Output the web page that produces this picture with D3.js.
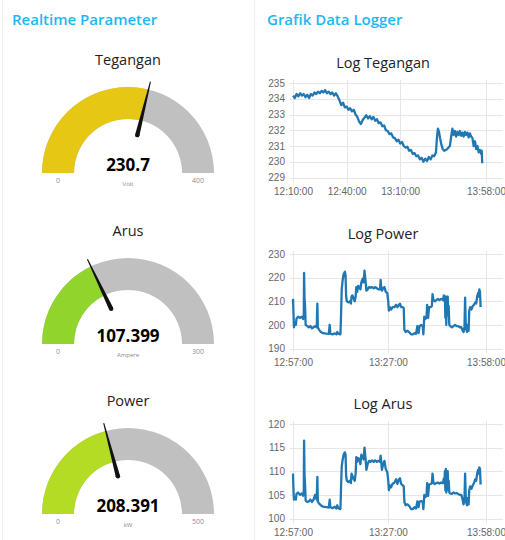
<!DOCTYPE html>
<html>
<head>
<meta charset="utf-8">
<script src="https://cdn.jsdelivr.net/npm/d3@7"></script>
<style>
  body { margin: 0; background: #fff; }
  svg { display: block; font-family: "Open Sans", sans-serif; }
  .panel-title { fill: #20b7f3; font-size: 15px; font-weight: 600; }
  .gauge-title, .chart-title { fill: #222; font-size: 14.5px; }
  .gauge-value { fill: #000; font-size: 17px; font-weight: 700; }
  .gauge-minmax { fill: #8592a3; font-size: 7px; }
  .gauge-unit { fill: #8a8a8a; font-size: 6px; }
  .gridline { stroke: #e6e6e6; stroke-width: 1; }
  .axis text { fill: #666; font-family: "Liberation Sans", Arial, sans-serif; font-size: 10px; }
  .series-line { fill: none; stroke: #1f77b4; stroke-width: 2.3; stroke-linejoin: round; }
</style>
</head>
<body>
<svg id="dash" width="505" height="540"></svg>
<script>
/*****************************************************************************
 *  Data
 */
var PANEL_TITLES = ["Realtime Parameter", "Grafik Data Logger"];

var GAUGE_NAMES = ["Tegangan", "Arus", "Power"];
var GAUGE_VALUES = [230.7, 107.399, 208.391];
var GAUGE_MIN = [0, 0, 0];
var GAUGE_MAX = [400, 300, 500];
var GAUGE_UNITS = ["Volt", "Ampere", "kW"];

var CHART_TITLES = ["Log Tegangan", "Log Power", "Log Arus"];

// Tegangan log: minutes after start, volt
var TEGANGAN_START = "12:10:00";
var TEGANGAN_MIN = [0, 1, 2, 3, 4, 5, 6, 7, 8, 9, 10, 11, 12, 13, 14, 15, 16, 17, 18, 19,
    20, 21, 22, 23, 24, 25, 26, 27, 28, 29, 30, 31, 32, 33, 34, 35, 36, 37, 38, 39,
    40, 41, 42, 43, 44, 45, 46, 47, 48, 49, 50, 51, 52, 53, 54, 55, 56, 57, 58, 59,
    60, 61, 62, 63, 64, 65, 66, 67, 68, 69, 70, 71, 72, 73, 74, 75, 76, 77, 78, 79, 80,
    80.6, 81.1, 81.7, 82.3, 83, 83.8, 84.6, 85.4, 86.2, 87, 87.8, 88.5, 89.2, 89.9, 90.6,
    91.3, 92, 92.7, 93.4, 94.1, 94.8, 95.5, 96.2, 96.9, 97.6, 98.3, 99, 99.7, 100.4, 101.1,
    101.8, 102.5, 103.2, 103.9, 104.6, 105.3, 105.6, 105.9];
var TEGANGAN_VAL = [234.2, 234.05, 234.3, 234.15, 234.35, 234.2, 234.3, 234.1, 234.25, 234.05,
    234.3, 234.2, 234.4, 234.3, 234.45, 234.35, 234.5, 234.4, 234.55, 234.35,
    234.45, 234.3, 234.4, 234.2, 234.35, 234.15, 233.9, 233.6, 233.75, 233.45,
    233.5, 233.3, 233.4, 233.2, 233.3, 233.0, 232.85, 232.55, 232.4, 232.65,
    232.8, 232.95, 232.75, 232.9, 232.7, 232.85, 232.6, 232.7, 232.45, 232.5,
    232.25, 232.3, 232.0, 231.95, 231.75, 231.8, 231.55, 231.5, 231.3, 231.4,
    231.15, 231.25, 231.0, 230.9, 230.95, 230.7, 230.75, 230.5, 230.55, 230.35,
    230.4, 230.15, 230.25, 230.0, 230.2, 230.05, 230.3, 230.15, 230.4, 230.35, 230.6,
    231.6, 232.1, 231.9, 231.5, 231.1, 230.8, 230.7, 230.75, 230.8, 230.9,
    231.0, 231.6, 232.1, 231.7, 231.95, 231.6, 231.9, 231.7, 231.95, 231.65,
    231.85, 231.6, 231.9, 231.7, 231.85, 231.55, 231.8, 231.6, 231.5, 231.0,
    231.3, 230.8, 231.0, 230.6, 230.75, 230.5, 230.7, 229.9];

// Power and Arus are logged together
var LOG_START = "12:57:00";
var LOG_MIN = [0, 0.15, 0.3, 0.6, 0.9, 1.1, 1.6, 2.2, 2.8, 3.2,
    3.4, 3.5, 3.65, 3.8, 4.0, 4.5, 5.0, 5.5, 6.0, 6.5,
    7.0, 7.5, 7.7, 7.85, 8.2, 8.8, 9.5, 10.5, 11.3, 11.6,
    11.8, 12.5, 13.2, 13.7, 14.0, 14.3, 14.8, 15.0, 15.2, 15.4,
    15.7, 16.0, 16.4, 16.6, 16.8, 17.0, 17.5, 18.0, 18.3, 18.5,
    18.8, 19.2, 19.5, 19.8, 20.0, 20.3, 20.6, 21.0, 21.3, 21.6,
    22.0, 22.3, 22.6, 22.9, 23.2, 23.6, 24.0, 24.5, 25.0, 25.5,
    26.0, 26.5, 27.0, 27.5, 27.7, 27.9, 28.1, 28.5, 28.9, 29.3,
    29.8, 30.1, 30.3, 30.6, 31.0, 31.5, 32.0, 32.6, 33.0, 33.5,
    33.8, 34.2, 34.7, 35.0, 35.2, 35.6, 36.2, 36.8, 37.3, 37.9,
    38.4, 38.9, 39.3, 39.7, 40.0, 40.5, 41.0, 41.2, 41.5, 41.8,
    42.2, 42.4, 42.7, 43.0, 43.5, 43.9, 44.1, 44.4, 44.8, 45.3,
    45.8, 46.3, 46.8, 47.4, 47.7, 47.9, 48.0, 48.15, 48.3, 48.45,
    48.6, 48.75, 48.9, 49.05, 49.2, 49.4, 49.7, 50.2, 50.7, 51.2,
    51.7, 52.2, 52.7, 53.2, 53.5, 53.9, 54.2, 54.4, 54.6, 54.8,
    55.0, 55.2, 55.5, 55.7, 56.0, 56.4, 56.8, 57.2, 57.6, 57.9,
    58.2, 58.5, 58.7, 58.9, 59.1, 59.3];
var POWER_VAL = [211, 205, 199, 201, 200, 202.5, 203.5, 203, 203.5, 202.5,
    203, 222, 211, 208, 200, 199.5, 199, 199.5, 198.5, 199,
    199.5, 199, 209, 199, 198, 197, 196.5, 196.3, 196.2, 200,
    196.3, 196, 196.4, 196, 197, 196.3, 196, 196, 205, 215,
    219, 221.5, 222.5, 221, 212, 210, 209.5, 210, 209, 212,
    212.5, 211, 210, 212, 216, 214, 216.5, 216, 215, 218,
    219.5, 218, 223, 219, 214.5, 215, 216, 215.8, 216, 215.5,
    216, 215.5, 215, 215, 219, 216, 214.5, 215.5, 216, 214,
    213.5, 210, 206, 207.5, 206.5, 207.5, 207.5, 208.5, 207.5, 208.5,
    209, 207.5, 207.5, 207, 198, 197, 197.5, 196.8, 196, 196,
    196.5, 196.2, 199.5, 196.5, 199.5, 200, 199.5, 196, 203.5, 202.5,
    203, 208.5, 203, 207.5, 207.5, 208, 213, 210.5, 210, 210.5,
    211, 210.5, 211, 210.5, 212.5, 210, 212, 203, 212, 200,
    211.5, 204, 212, 205, 208, 200, 199.5, 199, 199.5, 200,
    199.5, 199.5, 199, 199, 198, 197, 199, 211.5, 200, 198,
    197, 200, 197.5, 206, 207.5, 206.5, 208, 208.5, 209.5, 209,
    212, 213.5, 212, 215, 214, 207.5];
var ARUS_VAL = [109.5, 106, 104, 104.5, 104, 105.2, 105.5, 105, 105.3, 104.8,
    105.2, 116.5, 109, 107.5, 103.8, 103.5, 103.6, 104, 103.5, 104,
    105, 104, 108.8, 103.6, 103.2, 102.8, 102.5, 102.4, 102.3, 104,
    102.4, 102.2, 102.5, 102.1, 102.8, 102.2, 102, 102, 107, 111,
    112.5, 113.5, 114, 113.6, 109, 108, 107.7, 108, 107.5, 109.5,
    109, 108.3, 108, 109.5, 113, 112, 112.8, 112.5, 111.5, 113.5,
    113, 112.5, 115, 113, 110.3, 111.5, 112.2, 112, 112.3, 112,
    112.3, 112, 112.2, 112, 113.3, 112, 110.3, 111.5, 112.2, 110.5,
    109.8, 108, 106, 107, 106.6, 107.4, 107.5, 108.3, 107.3, 108.3,
    108.5, 107.3, 107, 106.8, 103.5, 102.8, 103, 102.6, 102, 102,
    102.4, 102.1, 103.6, 102.4, 103.6, 103.7, 103.5, 102, 105, 104.5,
    104.8, 107.5, 104.8, 107.2, 107.3, 107.5, 109.5, 107.5, 107.3, 107.5,
    107.6, 107.4, 107.6, 107.5, 108.5, 107.5, 110, 106, 110.5, 105.5,
    109.8, 106, 110, 106.5, 108, 105.5, 105.3, 105.2, 105.5, 105.3,
    105.4, 105.2, 105, 105, 104.3, 103, 104, 109.5, 104.5, 103.3,
    102.8, 104.3, 103, 106, 106.8, 106.3, 107, 107.5, 108.3, 108,
    109.5, 110.3, 109.5, 110.8, 110.5, 107.2];

var TEGANGAN_X_TICKS = ["12:10:00", "12:40:00", "13:10:00", "13:58:00"];
var LOG_X_TICKS = ["12:57:00", "13:27:00", "13:58:00"];
var TEGANGAN_Y_TICKS = [229, 230, 231, 232, 233, 234, 235];
var POWER_Y_TICKS = [190, 200, 210, 220, 230];
var ARUS_Y_TICKS = [100, 105, 110, 115, 120];

/*****************************************************************************
 *  Layout / style
 */
var GAUGE_COLORS = ["#e5c714", "#91d42c", "#b5dc24"];
var GAUGE_TRACK_COLOR = "#c0c0c0";
var GAUGE_CX = 128;
var GAUGE_CY = [173, 344, 514];
var GAUGE_R_OUT = 86;
var GAUGE_R_IN = 54;

var CHART_LEFT = 293;
var CHART_END_X = 486;   // x of the last tick
var CHART_RIGHT = 503;
var CHART_TOPS = [83, 254, 424];
var CHART_HEIGHT = 94.5;
var CHART_TITLE_X = 383;

var svg = d3.select("#dash");
var parseTime = d3.timeParse("%H:%M:%S");

// faint card borders
svg.append("line").attr("x1", 2.5).attr("x2", 2.5).attr("y1", 0).attr("y2", 540)
    .attr("stroke", "#f0f0f0");
svg.append("line").attr("x1", 254.5).attr("x2", 254.5).attr("y1", 0).attr("y2", 540)
    .attr("stroke", "#eeeeee");

svg.append("text").attr("class", "panel-title").attr("x", 12).attr("y", 25).text(PANEL_TITLES[0]);
svg.append("text").attr("class", "panel-title").attr("x", 267).attr("y", 25).text(PANEL_TITLES[1]);

/*****************************************************************************
 *  Gauges
 */
function drawGauge(i) {
    var cy = GAUGE_CY[i];
    var g = svg.append("g").attr("transform", "translate(" + GAUGE_CX + "," + cy + ")");
    var angle = d3.scaleLinear()
        .domain([GAUGE_MIN[i], GAUGE_MAX[i]])
        .range([-Math.PI / 2, Math.PI / 2])
        .clamp(true);
    var arc = d3.arc().innerRadius(GAUGE_R_IN).outerRadius(GAUGE_R_OUT);
    var a = angle(GAUGE_VALUES[i]);

    g.append("path")
        .attr("d", arc({ startAngle: -Math.PI / 2, endAngle: Math.PI / 2 }))
        .attr("fill", GAUGE_TRACK_COLOR);
    g.append("path")
        .attr("d", arc({ startAngle: -Math.PI / 2, endAngle: a }))
        .attr("fill", GAUGE_COLORS[i]);

    // needle
    var dx = Math.sin(a), dy = -Math.cos(a);
    var px = Math.cos(a), py = Math.sin(a);
    var rb = 39, rt = 94, wb = 2.2, wt = 0.5;
    var pts = [
        [dx * rb + px * wb, dy * rb + py * wb],
        [dx * rt + px * wt, dy * rt + py * wt],
        [dx * rt - px * wt, dy * rt - py * wt],
        [dx * rb - px * wb, dy * rb - py * wb]
    ];
    g.append("path").attr("d", d3.line()(pts) + "Z").attr("fill", "#111");
    g.append("circle").attr("cx", dx * rb).attr("cy", dy * rb).attr("r", wb).attr("fill", "#111");

    g.append("text").attr("class", "gauge-title")
        .attr("text-anchor", "middle").attr("y", -108).text(GAUGE_NAMES[i]);
    g.append("text").attr("class", "gauge-value")
        .attr("text-anchor", "middle").attr("y", -2).text(GAUGE_VALUES[i]);
    var mid = (GAUGE_R_OUT + GAUGE_R_IN) / 2;
    g.append("text").attr("class", "gauge-minmax")
        .attr("text-anchor", "middle").attr("x", -mid).attr("y", 10).text(GAUGE_MIN[i]);
    g.append("text").attr("class", "gauge-minmax")
        .attr("text-anchor", "middle").attr("x", mid).attr("y", 10).text(GAUGE_MAX[i]);
    g.append("text").attr("class", "gauge-unit")
        .attr("text-anchor", "middle").attr("y", 13).text(GAUGE_UNITS[i]);
}

for (var i = 0; i < GAUGE_NAMES.length; i++) {
    drawGauge(i);
}

/*****************************************************************************
 *  Log charts
 */
function toSeries(start, minutes, values) {
    var t0 = parseTime(start).getTime();
    return minutes.map((m, k) => ({ t: new Date(t0 + m * 60000), v: values[k] }));
}

var charts = [
    { title: CHART_TITLES[0], data: toSeries(TEGANGAN_START, TEGANGAN_MIN, TEGANGAN_VAL),
      xTicks: TEGANGAN_X_TICKS, yTicks: TEGANGAN_Y_TICKS },
    { title: CHART_TITLES[1], data: toSeries(LOG_START, LOG_MIN, POWER_VAL),
      xTicks: LOG_X_TICKS, yTicks: POWER_Y_TICKS },
    { title: CHART_TITLES[2], data: toSeries(LOG_START, LOG_MIN, ARUS_VAL),
      xTicks: LOG_X_TICKS, yTicks: ARUS_Y_TICKS }
];

function drawChart(c, idx) {
    var top = CHART_TOPS[idx];
    var bottom = top + CHART_HEIGHT;
    var xTicks = c.xTicks.map(parseTime);

    var xScale = d3.scaleTime()
        .domain([xTicks[0], xTicks[xTicks.length - 1]])
        .range([CHART_LEFT, CHART_END_X]);
    var yScale = d3.scaleLinear()
        .domain([c.yTicks[0], c.yTicks[c.yTicks.length - 1]])
        .range([bottom, top]);

    svg.append("text").attr("class", "chart-title")
        .attr("text-anchor", "middle")
        .attr("x", CHART_TITLE_X).attr("y", top - 15)
        .text(c.title);

    // gridlines
    svg.selectAll(".hgrid-" + idx)
        .data(c.yTicks).enter()
        .append("line")
        .attr("class", "gridline hgrid-" + idx)
        .attr("x1", CHART_LEFT - 3).attr("x2", CHART_RIGHT)
        .attr("y1", d => Math.round(yScale(d)) + 0.5)
        .attr("y2", d => Math.round(yScale(d)) + 0.5);
    svg.selectAll(".vgrid-" + idx)
        .data(xTicks).enter()
        .append("line")
        .attr("class", "gridline vgrid-" + idx)
        .attr("x1", d => Math.round(xScale(d)) + 0.5)
        .attr("x2", d => Math.round(xScale(d)) + 0.5)
        .attr("y1", top - 3).attr("y2", bottom + 5);

    // axes labels
    var yAxis = svg.append("g").attr("class", "axis")
        .attr("transform", "translate(" + CHART_LEFT + ",0)")
        .call(d3.axisLeft(yScale).tickValues(c.yTicks)
            .tickFormat(d3.format("d")).tickSize(0).tickPadding(8));
    yAxis.select(".domain").remove();

    var xAxis = svg.append("g").attr("class", "axis")
        .attr("transform", "translate(0," + bottom + ")")
        .call(d3.axisBottom(xScale).tickValues(xTicks)
            .tickFormat(d3.timeFormat("%H:%M:%S")).tickSize(0).tickPadding(10));
    xAxis.select(".domain").remove();

    // series
    var line = d3.line()
        .x(d => xScale(d.t))
        .y(d => yScale(d.v));
    svg.append("path")
        .datum(c.data)
        .attr("class", "series-line")
        .attr("d", line);
}

charts.forEach(drawChart);
</script>
</body>
</html>
